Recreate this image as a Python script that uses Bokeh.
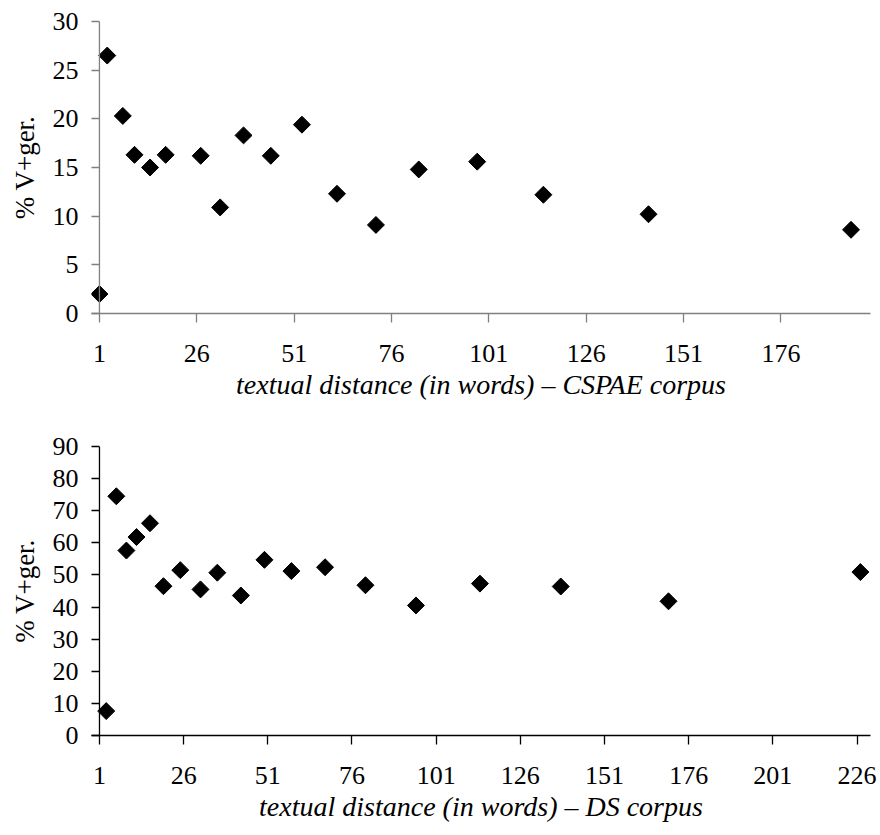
import math
from bokeh.plotting import figure
from bokeh.layouts import column
from bokeh.models import Range1d, FixedTicker, Span
from bokeh.embed import file_html
from bokeh.resources import INLINE

# ---- data: CSPAE corpus (top) ----
cspae_dist = [1, 3, 7, 10, 14, 18, 27, 32, 38, 45, 53, 62, 72, 83, 98, 115, 142, 194]
cspae_pct = [2.0, 26.5, 20.3, 16.3, 15.0, 16.3, 16.2, 10.9, 18.3, 16.2, 19.4, 12.3, 9.1, 14.8, 15.6, 12.2, 10.2, 8.6]

# ---- data: DS corpus (bottom) ----
ds_dist = [3, 6, 9, 12, 16, 20, 25, 31, 36, 43, 50, 58, 68, 80, 95, 114, 138, 170, 227]
ds_pct = [7.6, 74.5, 57.6, 61.8, 66.1, 46.5, 51.5, 45.5, 50.7, 43.6, 54.7, 51.2, 52.4, 46.8, 40.5, 47.3, 46.4, 41.8, 50.9]

top_xticks = [1, 26, 51, 76, 101, 126, 151, 176]
bot_xticks = [1, 26, 51, 76, 101, 126, 151, 176, 201, 226]
top_yticks = [0, 5, 10, 15, 20, 25, 30]
bot_yticks = [0, 10, 20, 30, 40, 50, 60, 70, 80, 90]

y_title = "% V+ger."
top_xlabel = "textual distance (in words) \u2013 CSPAE corpus"
bot_xlabel = "textual distance (in words) \u2013 DS corpus"

FONT = "Liberation Serif"
TICK_SIZE = "26px"
LABEL_SIZE = "28px"
YLABEL_SIZE = "27px"


def make_panel(xs, ys, xstart, xend, ymax, xticks, yticks, xlabel, axis_color,
               height, b_left, b_right, b_top, b_bottom):
    p = figure(width=880, height=height, output_backend="svg", toolbar_location=None,
               x_range=Range1d(xstart, xend), y_range=Range1d(0, ymax),
               min_border_left=b_left, min_border_right=b_right,
               min_border_top=b_top, min_border_bottom=b_bottom)
    p.grid.visible = False
    p.outline_line_color = None
    p.background_fill_color = "white"
    p.border_fill_color = "white"

    # vertical axis line at x = 1 (the plot frame extends a few pixels further left)
    p.add_layout(Span(location=xticks[0], dimension="height",
                      line_color=axis_color, line_width=1.3))

    p.scatter(xs, ys, marker="square", size=12, angle=math.pi / 4,
              fill_color="black", line_color="black")

    xa = p.xaxis[0]
    ya = p.yaxis[0]
    xa.ticker = FixedTicker(ticks=xticks)
    ya.ticker = FixedTicker(ticks=yticks)
    for ax in (xa, ya):
        ax.axis_line_color = axis_color
        ax.axis_line_width = 1.3
        ax.major_tick_line_color = axis_color
        ax.major_tick_line_width = 1.3
        ax.minor_tick_line_color = None
        ax.major_label_text_font = FONT
        ax.major_label_text_font_size = TICK_SIZE
        ax.major_label_text_color = "black"
    xa.major_tick_in = 0
    xa.major_tick_out = 9
    ya.axis_line_color = None
    ya.major_tick_in = 8
    ya.major_tick_out = 0
    ya.major_label_standoff = 13
    xa.major_label_standoff = 22

    xa.axis_label = xlabel
    xa.axis_label_text_font = FONT
    xa.axis_label_text_font_style = "italic"
    xa.axis_label_text_font_size = LABEL_SIZE
    xa.axis_label_text_color = "black"
    xa.axis_label_standoff = 4

    ya.axis_label = y_title
    ya.axis_label_text_font = FONT
    ya.axis_label_text_font_style = "normal"
    ya.axis_label_text_font_size = YLABEL_SIZE
    ya.axis_label_text_color = "black"
    ya.axis_label_standoff = 10
    return p


p1 = make_panel(cspae_dist, cspae_pct, -1.04, 199, 30, top_xticks, top_yticks, top_xlabel,
                "#808080", 420, 91, 6, 21, 107)
p2 = make_panel(ds_dist, ds_pct, -1.37, 230, 90, bot_xticks, bot_yticks, bot_xlabel,
                "black", 415, 91, 10, 26, 100)

layout = column(p1, p2, spacing=0)
open("out.html", "w").write(file_html(layout, INLINE))
